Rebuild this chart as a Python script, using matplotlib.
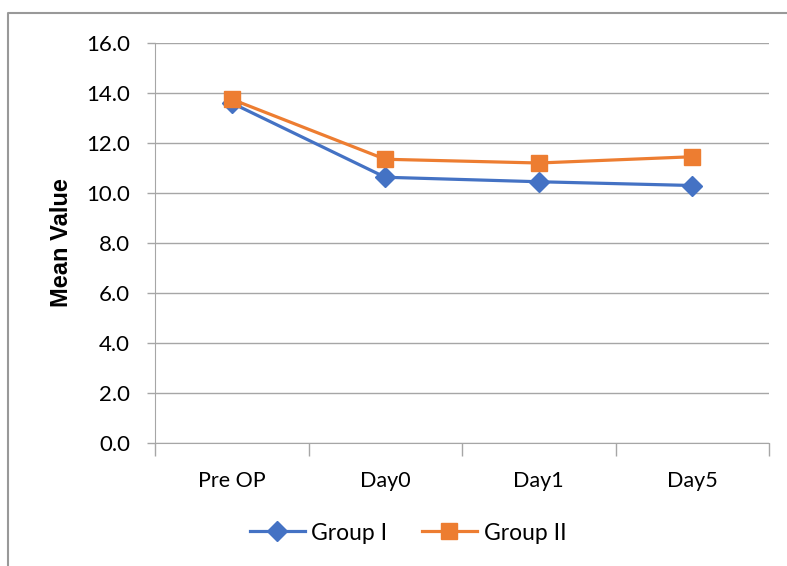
import numpy as np
import matplotlib.pyplot as plt
from matplotlib.lines import Line2D

plt.rcParams['font.family'] = ['Lato', 'DejaVu Sans']

categories = ['Pre OP', 'Day0', 'Day1', 'Day5']
group1 = [13.6, 10.63, 10.45, 10.3]
group2 = [13.75, 11.35, 11.2, 11.45]
yticks = np.arange(0, 16.1, 2.0)

blue = '#4472C4'
orange = '#ED7D31'
grid_col = '#a6a6a6'

fig = plt.figure(figsize=(7.87, 5.66), dpi=100)
ax = fig.add_axes([155/787, 1 - 443/566, (769 - 155)/787, (443 - 43)/566])

x = np.arange(len(categories))
ax.plot(x, group1, color=blue, lw=2.3, marker='D', ms=10, label='Group I', zorder=3)
ax.plot(x, group2, color=orange, lw=2.3, marker='s', ms=11, label='Group II', zorder=4)

ax.set_xlim(-0.5, len(categories) - 0.5)
ax.set_ylim(0, 16)
ax.set_yticks(yticks)
ax.set_yticklabels([f'{v:.1f}' for v in yticks], fontsize=16)
ax.set_xticks(x)
ax.set_xticklabels(categories, fontsize=15.5)
ax.tick_params(axis='x', length=0, pad=20)
ax.tick_params(axis='y', length=6, width=1, color=grid_col, pad=12)

# category boundary ticks below the axis
ax.set_xticks(np.arange(-0.5, len(categories), 1.0), minor=True)
ax.tick_params(axis='x', which='minor', length=9, width=1, color=grid_col)

ax.yaxis.grid(True, color=grid_col, lw=1)
ax.set_axisbelow(True)
for s in ['top', 'right']:
    ax.spines[s].set_visible(False)
ax.spines['left'].set_color(grid_col)
ax.spines['bottom'].set_color(grid_col)

ax.set_ylabel('Mean Value', fontsize=17, fontweight='bold',
              family=['Liberation Sans', 'DejaVu Sans'], labelpad=9)

ax.legend(loc='center', bbox_to_anchor=(408/787, 1 - 533/566),
          bbox_transform=fig.transFigure, ncol=2, frameon=False,
          fontsize=16.5, handlelength=2.4, columnspacing=1.5, handletextpad=0.3)

# outer chart border
fig.add_artist(Line2D([8/787, 8/787, 1.0], [0.0, 1 - 13/566, 1 - 13/566],
                      transform=fig.transFigure, color='#999999', lw=1.5))

fig.savefig('out.png', dpi=100)
